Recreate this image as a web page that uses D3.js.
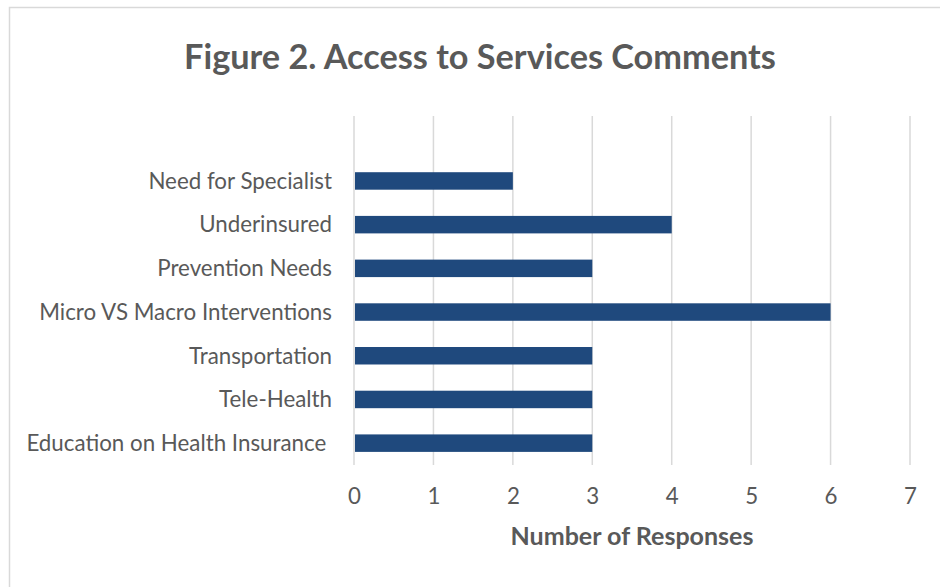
<!DOCTYPE html>
<html>
<head>
<meta charset="utf-8">
<script src="https://cdn.jsdelivr.net/npm/d3@7"></script>
<style>
  html, body { margin: 0; padding: 0; background: #fff; }
  svg { display: block; }
  text { font-family: Lato, "Open Sans", sans-serif; fill: #595959; }
</style>
</head>
<body>
<svg id="chart" width="940" height="587"></svg>
<script>
// Categories listed bottom to top, as they stack on the axis
const categories = [
  "Education on Health Insurance ",
  "Tele-Health",
  "Transportation",
  "Micro VS Macro Interventions",
  "Prevention Needs",
  "Underinsured",
  "Need for Specialist"
];
const responses = [3, 3, 3, 6, 3, 4, 2];
const xTicks = [0, 1, 2, 3, 4, 5, 6, 7];
const titleText = "Figure 2. Access to Services Comments";
const xAxisTitle = "Number of Responses";

const svg = d3.select("#chart");

// Outer chart frame (runs off the right and bottom edges)
svg.append("rect")
  .attr("x", 9.5).attr("y", 7.5)
  .attr("width", 1000).attr("height", 1000)
  .attr("fill", "none").attr("stroke", "#d9d9d9").attr("stroke-width", 1.5);

const plot = { left: 354, right: 910, top: 116, bottom: 465 };
const band = 43.7;

const x = d3.scaleLinear().domain([0, 7]).range([plot.left, plot.right]);
const y = d3.scaleBand()
  .domain(categories)
  .range([plot.bottom, plot.bottom - band * categories.length])
  .paddingInner(0.6).paddingOuter(0.3);

// Fit a text node's font size so it spans a given width
function fitWidth(sel, target) {
  const node = sel.node();
  const fs = parseFloat(sel.attr("font-size"));
  const w = node.getComputedTextLength();
  sel.attr("font-size", (fs * target / w).toFixed(2));
  return fs * target / w;
}

// Vertical gridlines
svg.append("g").selectAll("line")
  .data(xTicks)
  .join("line")
  .attr("x1", d => x(d)).attr("x2", d => x(d))
  .attr("y1", plot.top).attr("y2", plot.bottom)
  .attr("stroke", "#d9d9d9").attr("stroke-width", 1.5);

// Bars
svg.append("g").selectAll("rect")
  .data(categories)
  .join("rect")
  .attr("x", x(0) + 1)
  .attr("y", d => y(d))
  .attr("width", (d, i) => x(responses[i]) - x(0) - 1)
  .attr("height", y.bandwidth())
  .attr("fill", "#1f497d");

// Category labels, sized from the longest one
const probe = svg.append("text").attr("font-size", 20).text("Micro VS Macro Interventions");
const labelSize = fitWidth(probe, 293);
probe.remove();

svg.append("g").selectAll("text")
  .data(categories)
  .join("text")
  .attr("x", 332)
  .attr("y", d => y(d) + y.bandwidth() / 2)
  .attr("dy", "0.35em")
  .attr("text-anchor", "end")
  .attr("font-size", labelSize)
  .style("white-space", "pre")
  .text(d => d);

// X axis tick labels
const xAxis = d3.axisBottom(x)
  .tickValues(xTicks)
  .tickFormat(d3.format("d"))
  .tickSize(0).tickPadding(0);
const gx = svg.append("g").attr("transform", `translate(0, ${plot.bottom})`).call(xAxis);
gx.select(".domain").remove();
gx.attr("font-family", null).attr("font-size", null);
gx.selectAll("text")
  .attr("y", 31)
  .attr("dy", "0.35em")
  .attr("font-size", labelSize)
  .attr("fill", "#595959");

// Axis title
const at = svg.append("text")
  .attr("x", 632).attr("y", 545)
  .attr("text-anchor", "middle")
  .attr("font-weight", 700)
  .attr("font-size", 22)
  .text(xAxisTitle);
fitWidth(at, 243);

// Chart title
const tt = svg.append("text")
  .attr("x", 480).attr("y", 69)
  .attr("text-anchor", "middle")
  .attr("font-weight", 700)
  .attr("font-size", 32)
  .text(titleText);
fitWidth(tt, 592);
</script>
</body>
</html>
